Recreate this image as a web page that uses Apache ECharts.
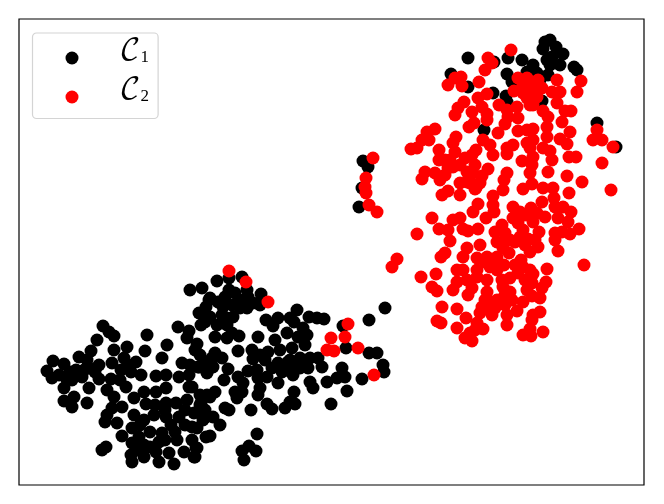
<!DOCTYPE html>
<html><head><meta charset="utf-8">
<script src="https://cdn.jsdelivr.net/npm/echarts@6/dist/echarts.min.js"></script>
<style>html,body{margin:0;background:#fff}#c{width:664px;height:504px}</style></head>
<body><div id="c"></div>
<script>
const classOne = [
[190,290],[202,288],[209,300],[199,313],[206,307],[201,325],[178,327],[189,331],[187,338],[197,344],[200,355],[199,367],[207,372],
[103,326],[109,332],[114,336],[97,340],[147,335],[167,345],[145,351],[127,347],[114,350],[162,358],[182,363],[91,351],[79,357],[87,360],[99,365],[89,368],
[53,361],[64,364],[47,371],[59,375],[52,378],[76,370],[82,377],[72,380],[99,379],[112,363],[124,358],[136,362],[121,370],[131,372],[141,375],[111,379],
[64,388],[89,388],[74,397],[64,401],[72,407],[87,403],[107,390],[114,397],[126,387],[134,398],[146,404],[144,392],[156,376],[166,375],[179,377],[189,375],[189,387],
[156,392],[166,388],[166,403],[176,403],[187,400],[201,403],[207,395],[122,407],[112,408],[107,415],[105,422],[117,423],[134,415],[144,420],[154,415],[166,417],[179,417],[194,413],[206,417],
[171,425],[192,427],[162,433],[132,428],[122,436],[139,437],[144,445],[132,443],[159,442],[177,440],[192,440],[206,437],[102,450],[106,447],
[131,455],[132,462],[144,457],[156,452],[169,453],[184,452],[196,448],[194,457],[159,462],[174,464],
[217,281],[229,278],[242,277],[247,290],[261,294],[229,290],[225,297],[235,293],[240,300],[210,298],[223,307],[222,315],[233,317],[227,318],[210,317],[205,322],[217,325],[227,325],[247,308],[253,303],[260,305],
[215,337],[227,338],[239,336],[232,333],[258,337],[266,320],[273,326],[278,318],[290,318],[297,310],[294,322],[309,317],[317,318],[324,319],[287,333],[275,340],[303,328],[307,335],[298,337],
[280,350],[292,348],[238,351],[252,350],[260,355],[265,360],[253,359],[215,353],[212,358],[222,358],[198,367],[213,367],[207,373],[228,369],[224,380],[238,377],[243,383],[248,371],[257,370],[258,378],[267,377],
[278,363],[290,360],[300,358],[310,358],[318,358],[322,367],[308,368],[297,368],[287,370],[293,375],[278,383],[310,382],[313,388],[327,382],[337,378],[342,368],[345,377],[347,391],[331,404],[362,379],[383,365],[384,372],[369,353],[377,353],[346,348],[343,326],[369,320],[385,308],
[242,392],[237,398],[235,392],[260,388],[258,395],[215,392],[210,397],[294,392],[295,404],[285,408],[290,402],[267,404],[272,409],[225,408],[229,410],[251,410],[220,425],[210,436],[213,417],[200,405],[205,410],[257,434],[249,446],[256,451],[242,451],[244,460],[195,457],[197,448],[203,420],[192,387],[197,428],
[300,368],[303,362],[288,362],[282,372],[272,368],[268,352],[305,345],[140,425],[150,432],[165,410],[185,410],[175,432],[150,447],[138,450],[165,440],[185,425],[200,395],[155,405],[70,372],[84,370],[95,372],[66,378],[120,380],[128,365],[218,302],[232,305],[240,308],[248,297],[195,350],[190,365],[205,362],
[468,58],[494,62],[508,58],[522,60],[550,40],[545,42],[543,49],[556,47],[563,54],[552,57],[547,60],[560,65],[533,65],[527,72],[537,73],[548,75],[550,65],[574,67],[577,70],[507,74],[512,82],[451,74],[468,87],[493,93],[506,96],[507,102],[542,101],[540,80],[484,130],[597,123],[616,147],[363,161],[368,167],[362,188],[359,207]
];
const classTwo = [
[229,271],[246,282],[268,302],[348,324],[331,338],[345,337],[327,350],[334,351],[358,348],[374,375],
[511,50],[488,58],[492,63],[485,70],[518,78],[557,80],[581,81],[577,92],[479,82],[461,77],[455,78],[448,85],[462,86],[523,85],[532,83],[542,88],[514,91],[523,93],[532,90],[537,97],[527,98],[533,105],[560,92],[552,92],[557,103],[487,94],[478,98],[464,102],[499,105],[517,107],[507,110],[543,111],[548,117],[565,111],[571,111],[458,108],[455,115],[472,112],[482,107],[487,114],[487,120],[518,118],[505,124],[508,117],[562,122],[547,127],[474,123],[469,127],[518,131],[533,129],[527,130],[570,132],[597,130],[547,137],[498,133],[435,129],[427,132],[422,140],[429,140],[456,137],[453,143],[483,140],[560,139],[593,140],[602,140],[567,144],[533,140],[527,143],[530,148],[513,145],[507,148],[490,145],[493,155],[507,154],[417,148],[411,149],[439,150],[455,152],[476,150],[472,155],[543,148],[550,151],[552,160],[613,147],[569,157],[576,157],[439,160],[450,160],[465,158],[460,165],[522,161],[533,157],[532,165],[602,163],[373,158],[425,172],[435,173],[422,179],[445,175],[440,180],[453,167],[467,172],[473,173],[488,169],[482,176],[507,173],[504,180],[548,172],[567,176],[530,173],[532,184],[582,182],[366,178],[365,187],[366,193],[369,205],[377,212],[460,183],[467,182],[476,188],[448,191],[442,195],[460,195],[493,196],[503,190],[523,189],[543,188],[553,188],[569,193],[611,190],
[470,183],[480,183],[475,189],[494,212],[493,205],[478,204],[473,212],[486,218],[513,207],[542,202],[554,198],[555,207],[563,207],[571,212],[531,208],[528,215],[545,217],[537,213],[533,222],[558,218],[568,222],[513,218],[432,218],[453,220],[460,218],[439,229],[448,230],[463,229],[468,231],[478,229],[417,234],[579,229],[570,234],[555,233],[562,232],[539,232],[502,225],[495,232],[505,233],[497,242],[518,223],[523,230],[520,237],[515,242],[528,239],[538,247],[530,252],[555,240],[558,251],[450,241],[467,248],[480,245],[445,253],[441,257],[463,257],[503,248],[509,253],[477,258],[487,257],[497,257],[504,265],[490,267],[497,270],[521,260],[523,267],[533,274],[518,273],[547,269],[584,265],[397,259],[392,267],[421,277],[436,274],[457,270],[463,270],[477,270],[457,282],[432,287],[437,291],[453,290],[467,280],[477,277],[487,280],[502,280],[510,278],[525,280],[532,283],[546,282],[542,288],[540,298],[532,296],[523,302],[472,288],[468,295],[487,292],[503,287],[510,292],[487,300],[497,300],[512,300],[505,305],[487,307],[482,307],[517,311],[492,315],[480,313],[507,315],[507,325],[442,307],[457,309],[466,318],[437,321],[441,323],[457,328],[540,312],[533,315],[532,320],[530,329],[523,335],[531,336],[543,332],[483,329],[477,323],[475,330],[465,338],[472,341],[470,333],
[525,90],[535,95],[530,105],[538,80],[527,78],[505,240],[510,240],[495,265],[485,262],[485,300],[495,308],[515,265],[525,245],[535,240],[505,295],[525,215],[520,212],[448,168],[445,160],[475,165],[530,270],[527,290]
];
const seriesNames = ['𝒞1', '𝒞2'];
const chart = echarts.init(document.getElementById('c'), null, {renderer:'canvas'});
const mark = (name, data, color) => ({type:'scatter', name, data, symbol:'circle', symbolSize:13,
  itemStyle:{color, opacity:1}, emphasis:{disabled:true}, clip:false});
chart.setOption({
  animation:false, backgroundColor:'#fff',
  grid:{left:19, top:19, width:625, height:466, show:true, borderColor:'#000', borderWidth:1.2, backgroundColor:'#fff'},
  xAxis:{type:'value', min:19, max:644, show:false},
  yAxis:{type:'value', min:19, max:485, inverse:true, show:false},
  legend:{left:32.5, top:33, orient:'vertical', itemWidth:13, itemHeight:13, itemGap:4,
    padding:[3.5,9,8,33], backgroundColor:'rgba(255,255,255,0.8)', borderColor:'#d4d4d4', borderWidth:1.2, borderRadius:4,
    selectedMode:false, icon:'circle',
    formatter:n => `{c|${n[0]+n[1]}}{s|${n.slice(2)}}`,
    textStyle:{rich:{
      c:{fontFamily:'"DejaVu Math TeX Gyre","DejaVu Serif",serif', fontSize:29, height:13, lineHeight:13, color:'#000', padding:[0,0,14,36]},
      s:{fontFamily:'"Liberation Serif",serif', fontSize:17, height:13, lineHeight:13, color:'#000', verticalAlign:'bottom', padding:[14,0,0,0]}
    }}},
  tooltip:{show:false},
  series:[mark(seriesNames[0], classOne, '#000'), mark(seriesNames[1], classTwo, '#f00')]
});
</script></body></html>
